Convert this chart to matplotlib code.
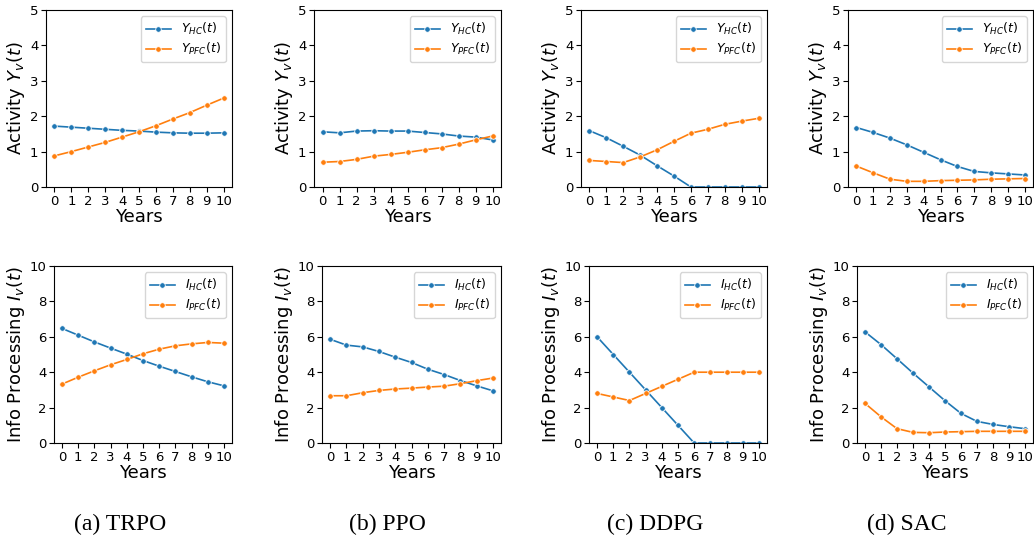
import numpy as np
import matplotlib
matplotlib.use("Agg")
import matplotlib.pyplot as plt

W, H = 1034, 541

years = list(range(11))
methods = ["TRPO", "PPO", "DDPG", "SAC"]
captions = ["(a) TRPO", "(b) PPO", "(c) DDPG", "(d) SAC"]

# activity Y_v(t)
y_hc = {
    "TRPO": [1.72, 1.69, 1.66, 1.63, 1.60, 1.58, 1.55, 1.53, 1.52, 1.52, 1.53],
    "PPO":  [1.56, 1.53, 1.58, 1.59, 1.58, 1.58, 1.54, 1.50, 1.44, 1.41, 1.33],
    "DDPG": [1.59, 1.39, 1.15, 0.90, 0.60, 0.31, 0.0, 0.0, 0.0, 0.0, 0.0],
    "SAC":  [1.68, 1.54, 1.38, 1.19, 0.98, 0.77, 0.58, 0.44, 0.40, 0.37, 0.34],
}
y_pfc = {
    "TRPO": [0.88, 1.00, 1.13, 1.26, 1.41, 1.56, 1.73, 1.92, 2.10, 2.31, 2.51],
    "PPO":  [0.70, 0.72, 0.78, 0.87, 0.92, 0.98, 1.05, 1.11, 1.21, 1.33, 1.44],
    "DDPG": [0.75, 0.72, 0.69, 0.85, 1.05, 1.29, 1.52, 1.63, 1.77, 1.86, 1.94],
    "SAC":  [0.59, 0.40, 0.22, 0.16, 0.16, 0.18, 0.19, 0.20, 0.22, 0.23, 0.24],
}
# info processing I_v(t)
i_hc = {
    "TRPO": [6.47, 6.09, 5.71, 5.36, 5.02, 4.66, 4.34, 4.04, 3.74, 3.46, 3.23],
    "PPO":  [5.86, 5.53, 5.43, 5.17, 4.85, 4.55, 4.17, 3.87, 3.53, 3.23, 2.95],
    "DDPG": [6.0, 5.0, 4.0, 3.0, 2.0, 1.0, 0.0, 0.0, 0.0, 0.0, 0.0],
    "SAC":  [6.28, 5.56, 4.76, 3.95, 3.17, 2.39, 1.67, 1.22, 1.05, 0.92, 0.81],
}
i_pfc = {
    "TRPO": [3.33, 3.72, 4.08, 4.42, 4.72, 5.04, 5.30, 5.49, 5.60, 5.68, 5.64],
    "PPO":  [2.67, 2.67, 2.84, 2.97, 3.05, 3.10, 3.16, 3.21, 3.35, 3.52, 3.67],
    "DDPG": [2.8, 2.6, 2.4, 2.8, 3.2, 3.6, 4.0, 4.0, 4.0, 4.0, 4.0],
    "SAC":  [2.24, 1.48, 0.81, 0.60, 0.58, 0.62, 0.64, 0.66, 0.66, 0.66, 0.66],
}

# axes boxes in pixels (left, right)
top_x = [(46, 232), (314, 501), (581, 767), (848, 1033)]
bot_x = [(54, 232), (322, 501), (589, 767), (857, 1033)]
top_y = (10, 187)
bot_y = (266, 443)

fig = plt.figure(figsize=(W / 100, H / 100), dpi=100)


def box(xr, yr):
    return [xr[0] / W, 1 - yr[1] / H, (xr[1] - xr[0]) / W, (yr[1] - yr[0]) / H]


def draw(ax, a, b, la, lb, ylim, yticks, ylabel):
    kw = dict(marker="o", markersize=4, linewidth=1.2, markeredgecolor="white",
              markeredgewidth=0.6)
    ax.plot(years, a, color="tab:blue", label=la, **kw)
    ax.plot(years, b, color="tab:orange", label=lb, **kw)
    ax.set_ylim(*ylim)
    ax.set_yticks(yticks)
    ax.set_xticks(years)
    ax.tick_params(labelsize=9.5, length=3.5, pad=2)
    ax.set_xlabel("Years", fontsize=13, labelpad=0)
    ax.set_ylabel(ylabel, fontsize=13, labelpad=2)
    ax.legend(loc="upper right", fontsize=9, handlelength=2.0, borderpad=0.4,
              labelspacing=0.3)


for k, m in enumerate(methods):
    ax = fig.add_axes(box(top_x[k], top_y))
    draw(ax, y_hc[m], y_pfc[m], r"$Y_{HC}(t)$", r"$Y_{PFC}(t)$",
         (0, 5), range(0, 6), r"Activity $Y_v(t)$")
    ax = fig.add_axes(box(bot_x[k], bot_y))
    draw(ax, i_hc[m], i_pfc[m], r"$I_{HC}(t)$", r"$I_{PFC}(t)$",
         (0, 10), range(0, 11, 2), r"Info Processing $I_v(t)$")

cap_x = [120, 387, 655, 907]
for cx, c in zip(cap_x, captions):
    fig.text(cx / W, 1 - 524 / H, c, ha="center", va="center",
             fontsize=17, family="Liberation Serif")

fig.savefig("out.png", dpi=100)
